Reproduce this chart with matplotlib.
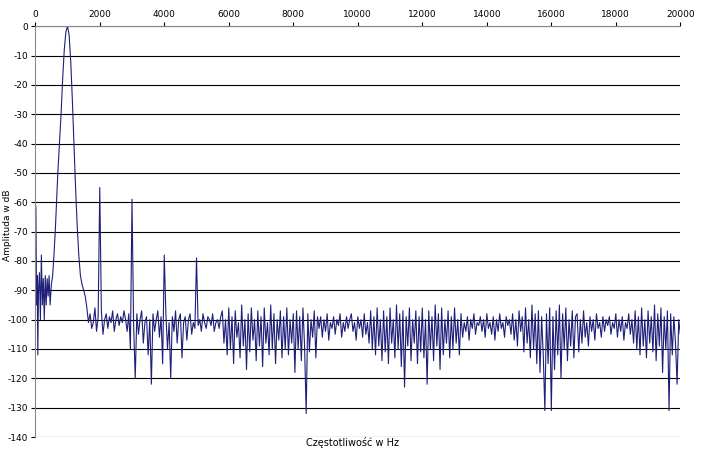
import numpy as np
import matplotlib.pyplot as plt

plt.rcParams['axes.unicode_minus'] = False

# low-frequency part incl. the 1 kHz fundamental
low_freq = [0, 20, 40, 60, 80, 100, 130, 160, 190, 220, 250, 280, 310, 340, 370, 400, 430, 460,
            500, 540, 580, 620, 660, 700, 750, 800, 850, 900, 950, 1000, 1050, 1100, 1150, 1200,
            1250, 1300, 1350, 1400, 1450, 1500, 1550, 1600, 1650, 1700, 1750]
low_db = [-60, -62, -95, -85, -112, -90, -84, -100, -78, -95, -86, -100, -85, -95, -86, -92, -85, -95,
          -88, -85, -78, -70, -60, -50, -40, -30, -18, -8, -2, 0, -3, -12, -25, -40,
          -55, -68, -78, -85, -88, -90, -92, -96, -101, -98, -103]

# harmonics
harm_freq = [2000, 3000, 4000, 5000]
harm_db = [-55, -59, -78, -79]

# noise floor 1800..20000 Hz, 50 Hz step
noise_start, noise_step = 1800, 50
noise_db = [
    -101, -96, -104, -99, -102, -97, -105, -100, -98, -103, -99, -101, -97, -104, -100, -98, -102, -99, -101, -97,
    -100, -104, -98, -110, -99, -102, -120, -98, -105, -100, -97, -108, -101, -99, -112, -100, -122, -98, -104, -100,
    -97, -106, -99, -115, -100, -98, -110, -101, -120, -99, -104, -97, -108, -100, -98, -113, -101, -99, -107, -100,
    -98, -105, -101, -103, -99, -102, -100, -104, -98, -101, -103, -99, -100, -102, -98, -104, -101, -100, -103, -99,
    -97, -108, -100, -112, -96, -110, -99, -115, -97, -106, -101, -113, -95, -109, -100, -117, -98, -111, -96, -107,
    -100, -114, -97, -109, -99, -116, -96, -108, -101, -112, -95, -110, -98, -115, -100, -107, -97, -113, -99, -110,
    -96, -112, -100, -108, -98, -118, -97, -110, -99, -114, -96, -109, -132, -98, -111, -100, -106, -97, -113, -99,
    -103, -99, -106, -100, -104, -98, -107, -101, -103, -99, -105, -100, -102, -98, -106, -101, -104, -99, -103, -100,
    -98, -104, -101, -107, -99, -103, -100, -106, -98, -105, -101, -108, -97, -110, -99, -112, -96, -109, -100, -114,
    -97, -111, -99, -115, -96, -108, -100, -113, -95, -110, -98, -116, -97, -123, -99, -109, -96, -114, -100, -108,
    -97, -115, -99, -111, -96, -113, -100, -122, -97, -110, -99, -114, -95, -109, -98, -117, -96, -112, -100, -108,
    -97, -113, -99, -110, -96, -108, -100, -112, -98, -106, -101, -104, -99, -107, -100, -103, -98, -105, -101, -102,
    -99, -104, -100, -106, -98, -103, -101, -105, -99, -107, -100, -104, -98, -103, -101, -106, -99, -102, -100, -105,
    -98, -107, -100, -109, -97, -104, -99, -111, -96, -108, -100, -113, -95, -110, -98, -115, -97, -118, -99, -112,
    -131, -98, -115, -96, -131, -99, -117, -97, -112, -95, -120, -98, -110, -96, -114, -100, -109, -97, -113, -99,
    -98, -111, -100, -108, -97, -106, -101, -109, -99, -104, -100, -107, -98, -103, -101, -106, -99, -104, -100, -102,
    -99, -105, -101, -103, -98, -106, -100, -104, -99, -107, -101, -103, -98, -105, -100, -108, -97, -110, -99, -112,
    -96, -109, -100, -113, -97, -108, -99, -111, -95, -114, -98, -109, -96, -118, -99, -110, -97, -131, -98, -112,
    -99, -108, -122, -100, -105,
]
noise_freq = [noise_start + i * noise_step for i in range(len(noise_db))]

# merge, harmonics replace the noise sample at the same frequency
spec = dict(zip(noise_freq, noise_db))
spec.update(dict(zip(low_freq, low_db)))
spec.update(dict(zip(harm_freq, harm_db)))
freq = np.array(sorted(spec))
db = np.array([spec[f] for f in freq])

fig = plt.figure(figsize=(7.05, 4.51), dpi=100)
ax = fig.add_axes([0.05, 0.031, 0.915, 0.911])
ax.plot(freq, db, color='#1f1f7a', lw=0.8)

ax.set_xlim(0, 20000)
ax.set_ylim(-140, 0)
ax.set_xticks(range(0, 20001, 2000))
ax.set_yticks(range(-140, 1, 10))
ax.xaxis.tick_top()
ax.tick_params(labelsize=6.5, length=3, pad=2)
ax.grid(axis='y', color='black', lw=0.8)
for s in ['right', 'bottom']:
    ax.spines[s].set_visible(False)
ax.spines['top'].set_color('#888888')
ax.spines['left'].set_color('#888888')
fig.text(0.5, 0.012, 'Częstotliwość w Hz', ha='center', fontsize=7)
fig.text(0.004, 0.5, 'Amplituda w dB', va='center', rotation=90, fontsize=6.5)

fig.savefig('out.png', dpi=100)
